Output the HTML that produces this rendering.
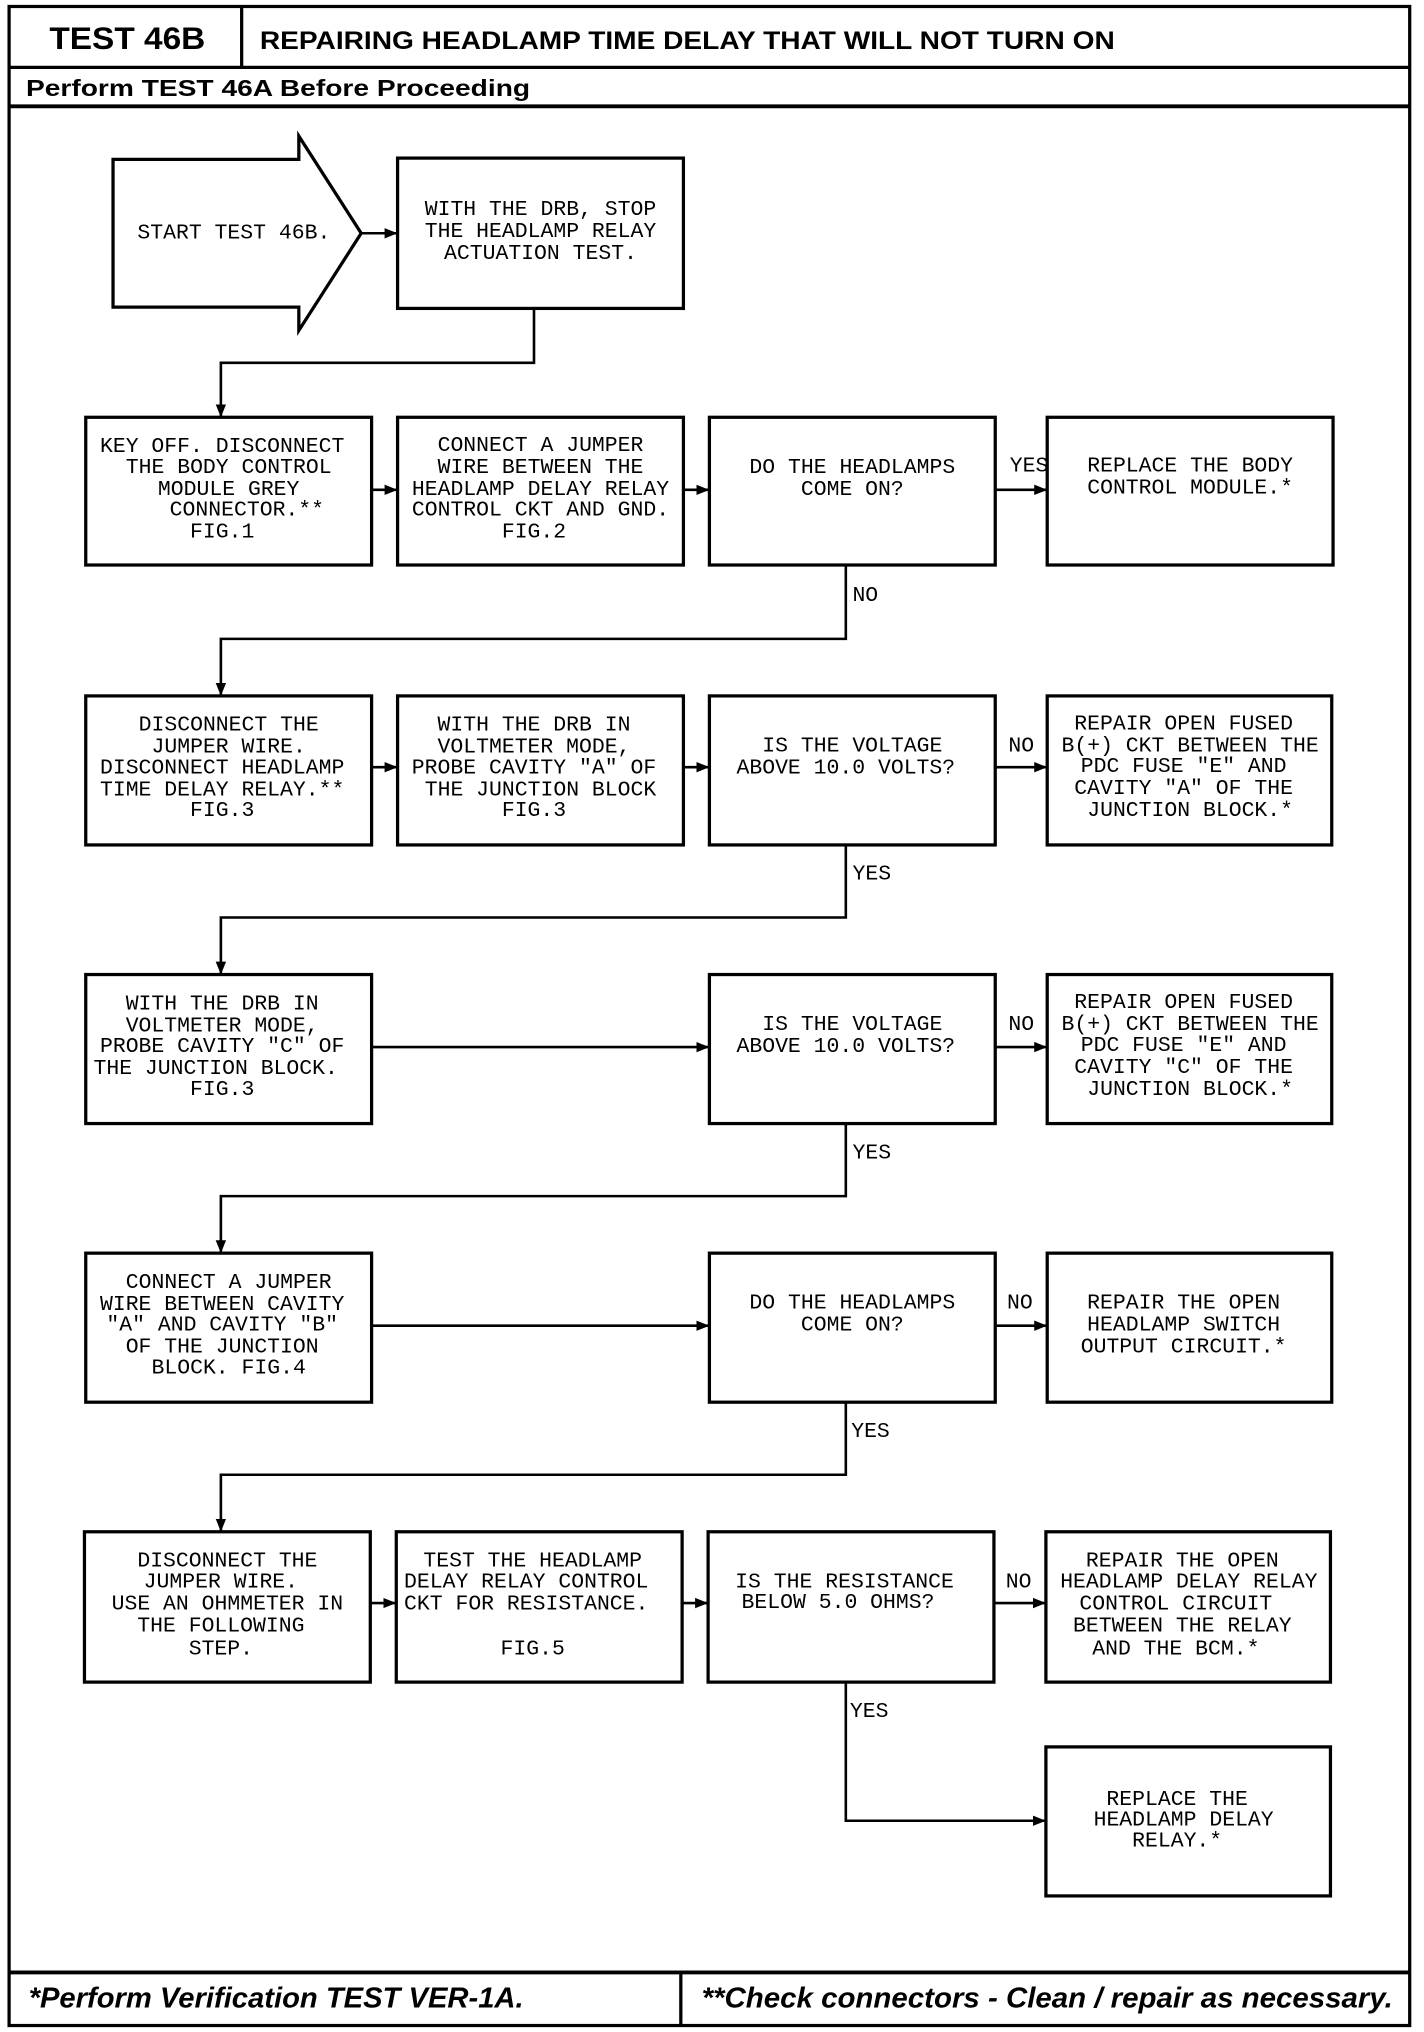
<!DOCTYPE html>
<html><head><meta charset="utf-8"><style>
html,body{margin:0;padding:0;background:#fff}
svg{display:block}
.t{font-family:"Liberation Mono",monospace;font-size:16.5px;text-anchor:middle;dominant-baseline:central}
.b{font-family:"Liberation Sans",sans-serif;font-weight:bold}
</style></head><body>
<svg width="1424" height="2032" viewBox="0 0 1096 1568" preserveAspectRatio="none" xmlns="http://www.w3.org/2000/svg">
<defs><marker id="a" markerWidth="10" markerHeight="10" refX="9" refY="5" orient="auto" markerUnits="userSpaceOnUse"><path d="M0,1 L10,5 L0,9 Z" fill="#000"/></marker></defs>
<g fill="none" stroke="#000" stroke-width="2.5">
<rect x="7" y="5" width="1078" height="1558"/>
<line x1="7" y1="52" x2="1085" y2="52"/><line x1="186" y1="5" x2="186" y2="52"/>
<line x1="7" y1="82" x2="1085" y2="82" stroke-width="3"/>
<line x1="7" y1="1522" x2="1085" y2="1522" stroke-width="3"/><line x1="524" y1="1522" x2="524" y2="1563"/>
<path d="M87,123 H230 V105 L278,180 L230,255 V237 H87 Z"/>
<rect x="306" y="122" width="220" height="116"/>
<rect x="66" y="322" width="220" height="114"/><rect x="306" y="322" width="220" height="114"/><rect x="546" y="322" width="220" height="114"/><rect x="806" y="322" width="220" height="114"/>
<rect x="66" y="537" width="220" height="115"/><rect x="306" y="537" width="220" height="115"/><rect x="546" y="537" width="220" height="115"/><rect x="806" y="537" width="219" height="115"/>
<rect x="66" y="752" width="220" height="115"/><rect x="546" y="752" width="220" height="115"/><rect x="806" y="752" width="219" height="115"/>
<rect x="66" y="967" width="220" height="115"/><rect x="546" y="967" width="220" height="115"/><rect x="806" y="967" width="219" height="115"/>
<rect x="65" y="1182" width="220" height="116"/><rect x="305" y="1182" width="220" height="116"/><rect x="545" y="1182" width="220" height="116"/><rect x="805" y="1182" width="219" height="116"/>
<rect x="805" y="1348" width="219" height="115"/>
</g>
<g fill="none" stroke="#000" stroke-width="2">
<path d="M278,180 H305" marker-end="url(#a)"/>
<path d="M411,238 V280 H170 V321" marker-end="url(#a)"/>
<path d="M286,378 H305" marker-end="url(#a)"/><path d="M526,378 H545" marker-end="url(#a)"/><path d="M766,378 H805" marker-end="url(#a)"/>
<path d="M651,436 V493 H170 V536" marker-end="url(#a)"/>
<path d="M286,592 H305" marker-end="url(#a)"/><path d="M526,592 H545" marker-end="url(#a)"/><path d="M766,592 H805" marker-end="url(#a)"/>
<path d="M651,652 V708 H170 V751" marker-end="url(#a)"/>
<path d="M286,808 H545" marker-end="url(#a)"/><path d="M766,808 H805" marker-end="url(#a)"/>
<path d="M651,867 V923 H170 V966" marker-end="url(#a)"/>
<path d="M286,1023 H545" marker-end="url(#a)"/><path d="M766,1023 H805" marker-end="url(#a)"/>
<path d="M651,1082 V1138 H170 V1181" marker-end="url(#a)"/>
<path d="M285,1237 H304" marker-end="url(#a)"/><path d="M525,1237 H544" marker-end="url(#a)"/><path d="M765,1237 H804" marker-end="url(#a)"/>
<path d="M651,1298 V1405 H804" marker-end="url(#a)"/>
</g>
<text class="b" x="38" y="38" font-size="24" textLength="120" lengthAdjust="spacingAndGlyphs">TEST 46B</text>
<text class="b" x="200" y="38" font-size="19" textLength="658" lengthAdjust="spacingAndGlyphs">REPAIRING HEADLAMP TIME DELAY THAT WILL NOT TURN ON</text>
<text class="b" x="20" y="74" font-size="18" textLength="388" lengthAdjust="spacingAndGlyphs">Perform TEST 46A Before Proceeding</text>
<text class="b" x="22" y="1549" font-size="22" font-style="italic" textLength="381" lengthAdjust="spacingAndGlyphs">*Perform Verification TEST VER-1A.</text>
<text class="b" x="540" y="1549" font-size="22" font-style="italic" textLength="532" lengthAdjust="spacingAndGlyphs">**Check connectors - Clean / repair as necessary.</text>
<g class="t">
<text x="180" y="180">START TEST 46B.</text>
<text x="416" y="162">WITH THE DRB, STOP</text><text x="416" y="179">THE HEADLAMP RELAY</text><text x="416" y="196">ACTUATION TEST.</text>
<text x="171" y="345">KEY OFF. DISCONNECT</text><text x="176" y="361">THE BODY CONTROL</text><text x="176" y="378">MODULE GREY</text><text x="190" y="394">CONNECTOR.**</text><text x="171" y="411">FIG.1</text>
<text x="416" y="344">CONNECT A JUMPER</text><text x="416" y="361">WIRE BETWEEN THE</text><text x="416" y="378">HEADLAMP DELAY RELAY</text><text x="416" y="394">CONTROL CKT AND GND.</text><text x="411" y="411">FIG.2</text>
<text x="656" y="361">DO THE HEADLAMPS</text><text x="656" y="378">COME ON?</text>
<text x="916" y="360">REPLACE THE BODY</text><text x="916" y="377">CONTROL MODULE.*</text>
<text x="792" y="360">YES</text><text x="666" y="460">NO</text>
<text x="176" y="560">DISCONNECT THE</text><text x="176" y="577">JUMPER WIRE.</text><text x="171" y="593">DISCONNECT HEADLAMP</text><text x="171" y="610">TIME DELAY RELAY.**</text><text x="171" y="626">FIG.3</text>
<text x="411" y="560">WITH THE DRB IN</text><text x="411" y="577">VOLTMETER MODE,</text><text x="411" y="593">PROBE CAVITY "A" OF</text><text x="416" y="610">THE JUNCTION BLOCK</text><text x="411" y="626">FIG.3</text>
<text x="656" y="576">IS THE VOLTAGE</text><text x="651" y="593">ABOVE 10.0 VOLTS?</text>
<text x="911" y="559">REPAIR OPEN FUSED</text><text x="916" y="576">B(+) CKT BETWEEN THE</text><text x="911" y="592">PDC FUSE "E" AND</text><text x="911" y="609">CAVITY "A" OF THE</text><text x="916" y="626">JUNCTION BLOCK.*</text>
<text x="786" y="576">NO</text><text x="671" y="675">YES</text>
<text x="171" y="775">WITH THE DRB IN</text><text x="171" y="792">VOLTMETER MODE,</text><text x="171" y="808">PROBE CAVITY "C" OF</text><text x="166" y="825">THE JUNCTION BLOCK.</text><text x="171" y="841">FIG.3</text>
<text x="656" y="791">IS THE VOLTAGE</text><text x="651" y="808">ABOVE 10.0 VOLTS?</text>
<text x="911" y="774">REPAIR OPEN FUSED</text><text x="916" y="791">B(+) CKT BETWEEN THE</text><text x="911" y="807">PDC FUSE "E" AND</text><text x="911" y="824">CAVITY "C" OF THE</text><text x="916" y="841">JUNCTION BLOCK.*</text>
<text x="786" y="791">NO</text><text x="671" y="890">YES</text>
<text x="176" y="990">CONNECT A JUMPER</text><text x="171" y="1007">WIRE BETWEEN CAVITY</text><text x="171" y="1023">"A" AND CAVITY "B"</text><text x="171" y="1040">OF THE JUNCTION</text><text x="176" y="1056">BLOCK. FIG.4</text>
<text x="656" y="1006">DO THE HEADLAMPS</text><text x="656" y="1023">COME ON?</text>
<text x="911" y="1006">REPAIR THE OPEN</text><text x="911" y="1023">HEADLAMP SWITCH</text><text x="911" y="1040">OUTPUT CIRCUIT.*</text>
<text x="785" y="1006">NO</text><text x="670" y="1105">YES</text>
<text x="175" y="1205">DISCONNECT THE</text><text x="170" y="1221">JUMPER WIRE.</text><text x="175" y="1238">USE AN OHMMETER IN</text><text x="170" y="1255">THE FOLLOWING</text><text x="170" y="1273">STEP.</text>
<text x="410" y="1205">TEST THE HEADLAMP</text><text x="405" y="1221">DELAY RELAY CONTROL</text><text x="405" y="1238">CKT FOR RESISTANCE.</text><text x="410" y="1273">FIG.5</text>
<text x="650" y="1221">IS THE RESISTANCE</text><text x="645" y="1237">BELOW 5.0 OHMS?</text>
<text x="910" y="1205">REPAIR THE OPEN</text><text x="915" y="1221">HEADLAMP DELAY RELAY</text><text x="905" y="1238">CONTROL CIRCUIT</text><text x="910" y="1255">BETWEEN THE RELAY</text><text x="905" y="1273">AND THE BCM.*</text>
<text x="784" y="1221">NO</text><text x="669" y="1321">YES</text>
<text x="906" y="1389">REPLACE THE</text><text x="911" y="1405">HEADLAMP DELAY</text><text x="906" y="1421">RELAY.*</text>
</g>
</svg>
</body></html>
